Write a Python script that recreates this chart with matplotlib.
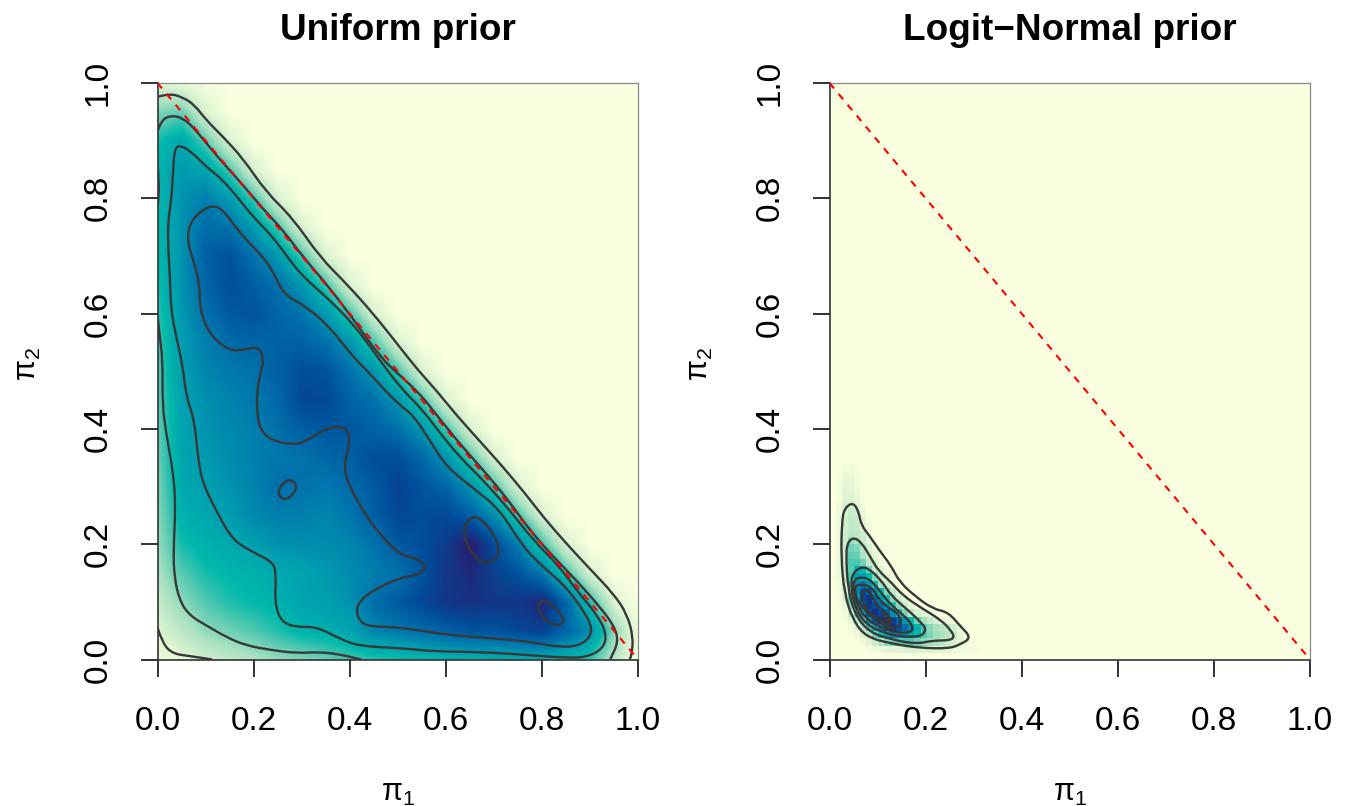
import numpy as np
import matplotlib
matplotlib.use('Agg')
import matplotlib.pyplot as plt
from matplotlib.colors import LinearSegmentedColormap
from matplotlib.patches import PathPatch
from matplotlib.path import Path

plt.rcParams['font.family'] = ['Liberation Sans', 'DejaVu Sans']
plt.rcParams['mathtext.fontset'] = 'custom'
plt.rcParams['mathtext.rm'] = 'Liberation Sans'
plt.rcParams['mathtext.it'] = 'DejaVu Serif:italic'

# ---------------------------------------------------------------------
# Density (colour scale 0-1)
# rows: pi2 from 1.00 down to 0.00, columns: pi1 from 0.00 to 1.00
# trailing zeros left out
# ---------------------------------------------------------------------
uniform_density = [
    [.12, .08, .02],
    [.30, .33, .13],
    [.42, .50, .34, .13],
    [.46, .56, .52, .36, .13],
    [.44, .58, .64, .55, .37, .13],
    [.44, .58, .70, .68, .55, .37, .13],
    [.44, .58, .74, .78, .68, .56, .37, .13],
    [.42, .58, .72, .80, .74, .68, .56, .37, .13],
    [.40, .56, .68, .76, .78, .72, .68, .56, .37, .13],
    [.38, .55, .64, .70, .72, .73, .73, .68, .57, .37, .13],
    [.36, .54, .62, .66, .68, .74, .80, .78, .68, .57, .37, .13],
    [.35, .53, .59, .63, .66, .71, .82, .82, .73, .68, .57, .37, .13],
    [.34, .52, .58, .61, .64, .69, .74, .77, .76, .73, .68, .57, .37, .13],
    [.33, .51, .56, .60, .64, .66, .68, .71, .74, .80, .80, .71, .58, .37, .13],
    [.31, .50, .54, .58, .63, .69, .68, .66, .70, .76, .84, .78, .72, .58, .37, .13],
    [.29, .47, .51, .55, .61, .64, .64, .62, .67, .74, .82, .80, .82, .74, .60, .37, .13],
    [.27, .42, .47, .50, .54, .58, .60, .60, .62, .68, .76, .80, .86, .98, .80, .64, .38, .13],
    [.24, .35, .42, .45, .47, .50, .52, .56, .60, .64, .68, .78, .88, .92, .85, .78, .66, .38, .13],
    [.18, .28, .36, .41, .44, .47, .52, .54, .58, .70, .76, .82, .88, .90, .88, .88, .93, .72, .40, .12],
    [.12, .20, .28, .32, .36, .41, .46, .48, .52, .62, .66, .70, .74, .78, .78, .82, .84, .72, .60, .28, .05],
    [.05, .10, .15, .19, .23, .27, .30, .33, .37, .40, .42, .44, .46, .47, .48, .48, .49, .46, .38, .20, .03],
]

# rows: pi2 cell centres from 0.331 down to 0.006 (step 0.0125)
# columns: pi1 cell centres from 0.006 (step 0.0125), values in percent
logit_density = [
    [0, 0, 4, 4, 2],
    [0, 1, 6, 6, 3, 1],
    [0, 2, 9, 9, 4, 1],
    [0, 2, 10, 10, 5, 1],
    [0, 2, 11, 11, 7, 2],
    [0, 4, 13, 15, 10, 3, 1],
    [0, 4, 14, 17, 15, 6, 1],
    [0, 4, 15, 18, 17, 8, 2],
    [0, 4, 15, 19, 18, 12, 4, 1],
    [0, 4, 16, 20, 19, 15, 6, 1],
    [0, 4, 16, 27, 23, 17, 9, 2],
    [0, 4, 17, 32, 30, 20, 14, 5, 1],
    [0, 4, 17, 34, 33, 24, 16, 10, 2],
    [0, 4, 17, 36, 37, 31, 19, 14, 6, 1],
    [0, 4, 17, 35, 46, 44, 31, 18, 12, 5, 1],
    [0, 4, 17, 37, 54, 54, 44, 29, 17, 11, 4, 1],
    [0, 3, 16, 40, 60, 68, 56, 42, 25, 16, 9, 2],
    [0, 3, 15, 37, 62, 80, 76, 58, 44, 30, 17, 10, 2],
    [0, 2, 13, 34, 56, 82, 88, 70, 56, 42, 28, 17, 10, 2],
    [0, 1, 9, 28, 45, 72, 88, 82, 70, 56, 40, 28, 16, 8, 2, 1],
    [0, 0, 5, 18, 34, 56, 78, 90, 82, 72, 58, 42, 30, 20, 14, 11, 7, 3, 1],
    [0, 0, 2, 10, 23, 36, 58, 76, 90, 94, 84, 72, 56, 44, 32, 25, 18, 14, 10, 7, 5, 1],
    [0, 0, 1, 4, 11, 23, 36, 50, 68, 84, 90, 78, 70, 58, 46, 36, 28, 24, 21, 18, 15, 8, 2],
    [0, 0, 0, 1, 5, 13, 21, 32, 42, 54, 62, 64, 60, 52, 44, 36, 30, 26, 24, 21, 17, 10, 3],
    [0, 0, 0, 0, 1, 5, 10, 16, 21, 28, 32, 34, 36, 36, 32, 28, 26, 24, 21, 17, 14, 10, 6, 2, 1],
    [0, 0, 0, 0, 0, 1, 3, 4, 6, 8, 10, 12, 13, 13, 13, 13, 12, 10, 9, 8, 6, 5, 4, 3, 3, 1, 1, 1],
    [0, 0, 0, 0, 0, 0, 0, 0, 1, 1, 1, 1, 1, 1, 1],
]

# ---------------------------------------------------------------------
# Contour lines, (pi1, pi2)
# ---------------------------------------------------------------------
uniform_outer = [(0, .976), (.025, .982), (.053, .975), (.077, .962), (.101, .936), (.136, .907),
                 (.178, .869), (.226, .811), (.282, .765), (.338, .698), (.393, .652), (.449, .600),
                 (.504, .542), (.542, .502), (.580, .467), (.622, .424), (.678, .372), (.719, .334),
                 (.768, .285), (.803, .247), (.851, .201), (.900, .157), (.949, .114), (.977, .079),
                 (.990, .039), (.987, .010), (.983, 0)]
uniform_second = [(0, .916), (.008, .936), (.029, .944), (.053, .939), (.077, .921), (.108, .889),
                  (.143, .855), (.178, .823), (.219, .782), (.261, .745), (.303, .698), (.351, .652),
                  (.407, .591), (.463, .525), (.504, .493), (.546, .461), (.581, .424), (.629, .374),
                  (.685, .322), (.733, .273), (.775, .224), (.824, .178), (.872, .137), (.921, .091),
                  (.952, .056), (.959, .030), (.942, 0)]
uniform_left = [(0, .597), (.004, .565), (.011, .519), (.010, .444), (.018, .392), (.032, .328),
                (.038, .270), (.033, .189), (.035, .143), (.046, .102), (.067, .076), (.108, .056),
                (.143, .039), (.185, .024), (.240, .016), (.289, .011), (.338, .013), (.379, .009),
                (.424, 0)]
uniform_edge = [(0, .858), (.003, .83), (.002, .80), (0, .785)]
uniform_corner = [(0, .055), (.011, .027), (.032, .010), (.067, .006), (.114, 0)]
uniform_third = [(.049, .892), (.035, .887), (.032, .837), (.028, .791), (.022, .762), (.022, .716),
                 (.026, .664), (.028, .606), (.039, .560), (.053, .507), (.060, .455), (.077, .415),
                 (.084, .351), (.094, .305), (.129, .247), (.157, .207), (.199, .186), (.240, .169),
                 (.247, .149), (.244, .097), (.258, .065), (.289, .056), (.331, .057), (.379, .036),
                 (.421, .023), (.504, .020), (.574, .014), (.678, .013), (.782, .007), (.851, .003),
                 (.893, .004), (.928, .019), (.935, .045), (.914, .079), (.872, .120), (.838, .160),
                 (.782, .207), (.733, .259), (.678, .311), (.636, .345), (.594, .386), (.553, .432),
                 (.504, .473), (.463, .519), (.407, .583), (.351, .629), (.303, .664), (.275, .693),
                 (.240, .733), (.199, .768), (.171, .797), (.136, .832), (.101, .855), (.074, .878),
                 (.049, .892)]
uniform_inner = [(.115, .788), (.136, .780), (.157, .756), (.185, .727), (.226, .693), (.247, .661),
                 (.265, .632), (.310, .612), (.358, .577), (.407, .525), (.435, .502), (.463, .476),
                 (.504, .441), (.532, .424), (.567, .380), (.601, .334), (.664, .293), (.713, .259),
                 (.761, .195), (.803, .160), (.851, .126), (.900, .068), (.904, .042), (.879, .024),
                 (.838, .021), (.782, .030), (.713, .036), (.608, .042), (.504, .056), (.449, .057),
                 (.425, .062), (.413, .082), (.421, .102), (.449, .120), (.504, .142), (.539, .146),
                 (.556, .155), (.556, .166), (.539, .175), (.504, .182), (.469, .212), (.435, .247),
                 (.400, .299), (.387, .334), (.400, .374), (.397, .398), (.376, .405), (.344, .398),
                 (.306, .377), (.282, .373), (.240, .379), (.213, .398), (.207, .432), (.207, .467),
                 (.216, .502), (.221, .519), (.211, .544), (.171, .535), (.143, .539), (.108, .565),
                 (.088, .606), (.088, .652), (.074, .693), (.062, .727), (.067, .756), (.088, .777),
                 (.115, .788)]
uniform_loop_a = [(.278, .312), (.290, .303), (.285, .288), (.265, .276), (.251, .285), (.254, .299),
                  (.268, .310), (.278, .312)]
uniform_loop_b = [(.653, .250), (.678, .241), (.702, .215), (.711, .192), (.706, .175), (.681, .165),
                  (.660, .178), (.643, .201), (.636, .227), (.653, .250)]
uniform_loop_c = [(.799, .104), (.824, .094), (.845, .073), (.845, .062), (.824, .059), (.803, .071),
                  (.790, .091), (.799, .104)]

logit_first = [(.049, .273), (.061, .256), (.066, .233), (.083, .215), (.104, .189), (.128, .163),
               (.146, .134), (.181, .108), (.215, .088), (.247, .082), (.271, .059), (.295, .038),
               (.274, .027), (.250, .019), (.188, .020), (.132, .027), (.076, .039), (.049, .068),
               (.031, .114), (.024, .178), (.026, .241), (.031, .262), (.049, .273)]
logit_second = [(.049, .212), (.066, .204), (.087, .175), (.101, .155), (.128, .134), (.153, .111),
                (.188, .091), (.233, .068), (.253, .050), (.260, .039), (.250, .033), (.215, .033),
                (.181, .027), (.132, .034), (.083, .047), (.052, .079), (.038, .126), (.035, .172),
                (.036, .201), (.049, .212)]
logit_third = [(.066, .161), (.083, .157), (.108, .137), (.128, .111), (.160, .088), (.194, .062),
               (.201, .050), (.188, .039), (.146, .040), (.111, .047), (.076, .061), (.054, .088),
               (.045, .123), (.047, .149), (.066, .161)]
logit_fourth = [(.063, .143), (.083, .140), (.104, .120), (.128, .094), (.160, .073), (.174, .056),
                (.170, .047), (.142, .046), (.104, .056), (.073, .073), (.056, .097), (.049, .126),
                (.052, .138), (.063, .143)]
logit_fifth = [(.056, .131), (.087, .128), (.108, .097), (.146, .079), (.149, .059), (.132, .053),
               (.094, .068), (.059, .099), (.052, .120), (.056, .131)]
logit_sixth = [(.069, .120), (.083, .120), (.100, .091), (.128, .074), (.128, .059), (.100, .068),
               (.073, .091), (.066, .111), (.069, .120)]
logit_seventh = [(.109, .076), (.115, .081), (.127, .068), (.118, .066), (.109, .076)]

uniform_lines = [uniform_outer, uniform_second, uniform_left, uniform_edge, uniform_corner, uniform_third,
                 uniform_inner, uniform_loop_a, uniform_loop_b, uniform_loop_c]
logit_lines = [logit_first, logit_second, logit_third, logit_fourth, logit_fifth, logit_sixth, logit_seventh]

ticks = [0.0, 0.2, 0.4, 0.6, 0.8, 1.0]

cmap = LinearSegmentedColormap.from_list('dens', [
    (0.00, '#FAFFDF'), (0.12, '#DDF4D2'), (0.25, '#A6E0C0'), (0.36, '#4FC8B0'),
    (0.44, '#00B8AC'), (0.55, '#009DB0'), (0.68, '#0072AC'), (0.80, '#004E9A'),
    (0.87, '#103A8A'), (0.93, '#20287A'), (1.00, '#2E1A68')])


def to_grid(rows, ncols):
    grid = np.zeros((len(rows), ncols))
    for i, row in enumerate(rows):
        grid[i, :len(row)] = row
    return grid


def smooth_line(ax, pts):
    # quadratic curve through segment midpoints, keeps the read points as controls
    pts = np.array(pts, dtype=float)
    closed = np.allclose(pts[0], pts[-1])
    if closed:
        start = (pts[0] + pts[-2]) / 2
        verts = [start]
        for i in range(len(pts) - 1):
            verts += [pts[i], (pts[i] + pts[i + 1]) / 2]
    else:
        verts = [pts[0]]
        for i in range(1, len(pts) - 1):
            verts += [pts[i], (pts[i] + pts[i + 1]) / 2]
        verts += [pts[-1]]
    codes = [Path.MOVETO] + [Path.CURVE3] * (len(verts) - 1)
    if not closed:
        codes[-1] = Path.LINETO
    ax.add_patch(PathPatch(Path(verts, codes), fc='none', ec='#383838', lw=1.7, zorder=3))


def draw_panel(pos, density, extent, interp, lines, title):
    ax = fig.add_axes(pos)
    ax.set_facecolor('#FAFFDF')
    ax.imshow(density, cmap=cmap, vmin=0, vmax=1, extent=extent, origin='upper',
              interpolation=interp, aspect='auto', zorder=1)
    for pts in lines:
        smooth_line(ax, pts)
    ax.plot([0, 1], [1, 0], color='#FF0000', lw=1.5, dashes=(3.4, 3.4), zorder=4)
    ax.set_xlim(0, 1)
    ax.set_ylim(0, 1)
    ax.set_xticks(ticks)
    ax.set_yticks(ticks)
    ax.set_xticklabels(['%.1f' % t for t in ticks])
    ax.set_yticklabels(['%.1f' % t for t in ticks], rotation=90, va='center')
    ax.tick_params(axis='x', length=12.5, width=1.3, labelsize=24, pad=21, color='#222222')
    ax.tick_params(axis='y', length=12.5, width=1.3, labelsize=24, pad=19, color='#222222')
    for side in ['top', 'right']:
        ax.spines[side].set_color('#8a8a8a')
        ax.spines[side].set_linewidth(0.9)
    for side in ['left', 'bottom']:
        ax.spines[side].set_color('#333333')
        ax.spines[side].set_linewidth(1.2)
    ax.set_title(title, fontsize=26.6, fontweight='bold', pad=31)
    ax.text(0.5, -0.231, r'$\mathrm{\pi_1}$', transform=ax.transAxes, ha='center', va='center',
            fontsize=22)
    ax.text(-0.270, 0.513, r'$\mathrm{\pi_2}$', transform=ax.transAxes, ha='center', va='center',
            fontsize=22, rotation=90)
    return ax


fig = plt.figure(figsize=(13.49, 8.06), dpi=100)
W, H = 1349.0, 806.0
draw_panel([157.5 / W, 1 - 659.5 / H, 480.5 / W, 576.5 / H], to_grid(uniform_density, 21),
           [-0.025, 1.025, -0.025, 1.025], 'bilinear', uniform_lines, 'Uniform prior')
draw_panel([829.5 / W, 1 - 659.5 / H, 480.5 / W, 576.5 / H], to_grid(logit_density, 28) / 100,
           [0, 0.35, 0, 0.3375], 'nearest', logit_lines, 'Logit\u2212Normal prior')

plt.savefig('out.png', dpi=100)
